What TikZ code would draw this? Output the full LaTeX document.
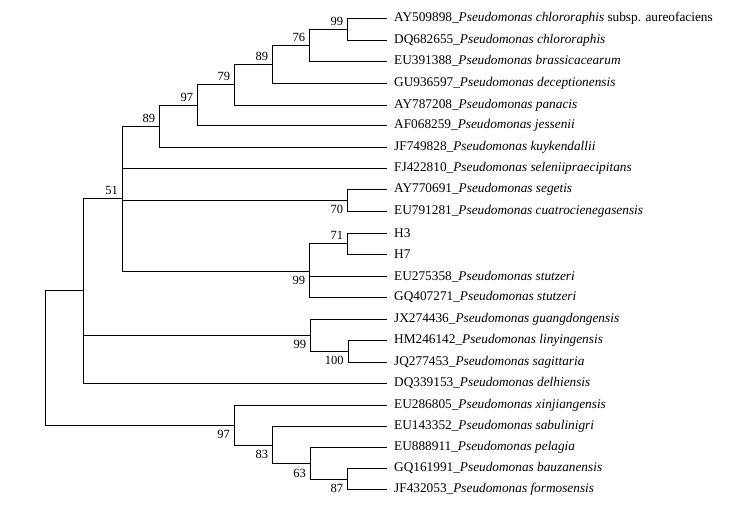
\documentclass[tikz,border=0pt]{standalone}
\usepackage{fontspec}
\setmainfont{Liberation Serif}
\begin{document}
\begin{tikzpicture}[x=1pt,y=-1pt,
  branch/.style={line width=0.8pt,line join=miter},
  leaf/.style={anchor=west,inner sep=0pt,font=\fontsize{13.3}{14}\selectfont},
  bsa/.style={anchor=south east,inner sep=0pt,font=\fontsize{12.5}{13}\selectfont},
  bsb/.style={anchor=north east,inner sep=0pt,font=\fontsize{12.5}{13}\selectfont}]
\useasboundingbox (0,0) rectangle (742,506);
% leaf ends
\foreach \i/\y in {1/18.3,2/40,3/61,4/83,5/105.3,6/125.3,7/147,8/168.3,9/189.3,10/211,11/233,12/254.3,13/276.3,14/297,15/319,16/340.7,17/362,18/383,19/405.3,20/426.3,21/447.3,22/468.3,23/489.7}
  \coordinate (L\i) at (386.7,\y);
% internal nodes
\coordinate (a99) at (347.3,29.15);
\coordinate (a76) at (309.3,45.1);
\coordinate (a89) at (272.3,64.05);
\coordinate (a79) at (234.3,84.7);
\coordinate (a97) at (197.3,105);
\coordinate (b89) at (159.3,126);
\coordinate (n70) at (347.3,200.15);
\coordinate (n71) at (347.3,243.65);
\coordinate (s99) at (309.3,271);
\coordinate (n51) at (122,198.5);
\coordinate (n100) at (348.7,351.35);
\coordinate (g99) at (310.3,335.2);
\coordinate (m83) at (83.3,290.75);
\coordinate (n87) at (347.3,479);
\coordinate (n63) at (310,463.6);
\coordinate (n83) at (272.3,445);
\coordinate (n97) at (234,425.2);
\coordinate (root) at (45.7,358);
% branches
\draw[branch] (L1) -- (a99 |- L1) -- (a99 |- L2) -- (L2);
\draw[branch] (a99) -- (a76 |- a99) -- (a76 |- L3) -- (L3);
\draw[branch] (a76) -- (a89 |- a76) -- (a89 |- L4) -- (L4);
\draw[branch] (a89) -- (a79 |- a89) -- (a79 |- L5) -- (L5);
\draw[branch] (a79) -- (a97 |- a79) -- (a97 |- L6) -- (L6);
\draw[branch] (a97) -- (b89 |- a97) -- (b89 |- L7) -- (L7);
\draw[branch] (b89) -- (n51 |- b89) -- (n51 |- s99) -- (s99);
\draw[branch] (n51 |- L8) -- (L8);
\draw[branch] (n51 |- n70) -- (n70);
\draw[branch] (L9) -- (n70 |- L9) -- (n70 |- L10) -- (L10);
\draw[branch] (n71) -- (s99 |- n71) -- (s99 |- L14) -- (L14);
\draw[branch] (s99 |- L13) -- (L13);
\draw[branch] (L11) -- (n71 |- L11) -- (n71 |- L12) -- (L12);
\draw[branch] (n51) -- (m83 |- n51) -- (m83 |- L18) -- (L18);
\draw[branch] (m83 |- g99) -- (g99);
\draw[branch] (L15) -- (g99 |- L15) -- (g99 |- n100) -- (n100);
\draw[branch] (L16) -- (n100 |- L16) -- (n100 |- L17) -- (L17);
\draw[branch] (m83) -- (root |- m83) -- (root |- n97) -- (n97);
\draw[branch] (L19) -- (n97 |- L19) -- (n97 |- n83) -- (n83);
\draw[branch] (L20) -- (n83 |- L20) -- (n83 |- n63) -- (n63);
\draw[branch] (L21) -- (n63 |- L21) -- (n63 |- n87) -- (n87);
\draw[branch] (L22) -- (n87 |- L22) -- (n87 |- L23) -- (L23);
% bootstrap values
\node[bsa] (v1) at ([xshift=-4pt,yshift=3.5pt]a99) {99};
\node[bsa] (v2) at ([xshift=-4pt,yshift=3.5pt]a76) {76};
\node[bsa] (v3) at ([xshift=-4pt,yshift=3.5pt]a89) {89};
\node[bsa] (v4) at ([xshift=-4pt,yshift=3.5pt]a79) {79};
\node[bsa] (v5) at ([xshift=-4pt,yshift=3.5pt]a97) {97};
\node[bsa] (v6) at ([xshift=-4pt,yshift=3.5pt]b89) {89};
\node[bsa] (v7) at ([xshift=-4pt,yshift=3.5pt]n51) {51};
\node[bsa] (v8) at ([xshift=-4pt,yshift=3.5pt]n71) {71};
\node[bsb] (v9) at ([xshift=-4pt,yshift=-5pt]n70) {70};
\node[bsb] (v10) at ([xshift=-4pt,yshift=-5pt]s99) {99};
\node[bsb] (v11) at ([xshift=-4pt,yshift=-5pt]g99) {99};
\node[bsb] (v12) at ([xshift=-5pt,yshift=-5pt]n100) {100};
\node[bsb] (v13) at ([xshift=-4pt,yshift=-5pt]n97) {97};
\node[bsb] (v14) at ([xshift=-4pt,yshift=-5pt]n83) {83};
\node[bsb] (v15) at ([xshift=-4pt,yshift=-5pt]n63) {63};
\node[bsb] (v16) at ([xshift=-4pt,yshift=-5pt]n87) {87};
% leaf labels
\node[leaf] (t1) at ([xshift=7.3pt]L1) {AY509898\_\textit{Pseudomonas chlororaphis} subsp. aureofaciens};
\node[leaf] (t2) at ([xshift=7.3pt]L2) {DQ682655\_\textit{Pseudomonas chlororaphis}};
\node[leaf] (t3) at ([xshift=7.3pt]L3) {EU391388\_\textit{Pseudomonas brassicacearum}};
\node[leaf] (t4) at ([xshift=7.3pt]L4) {GU936597\_\textit{Pseudomonas deceptionensis}};
\node[leaf] (t5) at ([xshift=7.3pt]L5) {AY787208\_\textit{Pseudomonas panacis}};
\node[leaf] (t6) at ([xshift=7.3pt]L6) {AF068259\_\textit{Pseudomonas jessenii}};
\node[leaf] (t7) at ([xshift=7.3pt]L7) {JF749828\_\textit{Pseudomonas kuykendallii}};
\node[leaf] (t8) at ([xshift=7.3pt]L8) {FJ422810\_\textit{Pseudomonas seleniipraecipitans}};
\node[leaf] (t9) at ([xshift=7.3pt]L9) {AY770691\_\textit{Pseudomonas segetis}};
\node[leaf] (t10) at ([xshift=7.3pt]L10) {EU791281\_\textit{Pseudomonas cuatrocienegasensis}};
\node[leaf] (t11) at ([xshift=7.3pt]L11) {H3};
\node[leaf] (t12) at ([xshift=7.3pt]L12) {H7};
\node[leaf] (t13) at ([xshift=7.3pt]L13) {EU275358\_\textit{Pseudomonas stutzeri}};
\node[leaf] (t14) at ([xshift=7.3pt]L14) {GQ407271\_\textit{Pseudomonas stutzeri}};
\node[leaf] (t15) at ([xshift=7.3pt]L15) {JX274436\_\textit{Pseudomonas guangdongensis}};
\node[leaf] (t16) at ([xshift=7.3pt]L16) {HM246142\_\textit{Pseudomonas linyingensis}};
\node[leaf] (t17) at ([xshift=7.3pt]L17) {JQ277453\_\textit{Pseudomonas sagittaria}};
\node[leaf] (t18) at ([xshift=7.3pt]L18) {DQ339153\_\textit{Pseudomonas delhiensis}};
\node[leaf] (t19) at ([xshift=7.3pt]L19) {EU286805\_\textit{Pseudomonas xinjiangensis}};
\node[leaf] (t20) at ([xshift=7.3pt]L20) {EU143352\_\textit{Pseudomonas sabulinigri}};
\node[leaf] (t21) at ([xshift=7.3pt]L21) {EU888911\_\textit{Pseudomonas pelagia}};
\node[leaf] (t22) at ([xshift=7.3pt]L22) {GQ161991\_\textit{Pseudomonas bauzanensis}};
\node[leaf] (t23) at ([xshift=7.3pt]L23) {JF432053\_\textit{Pseudomonas formosensis}};
\end{tikzpicture}
\end{document}
